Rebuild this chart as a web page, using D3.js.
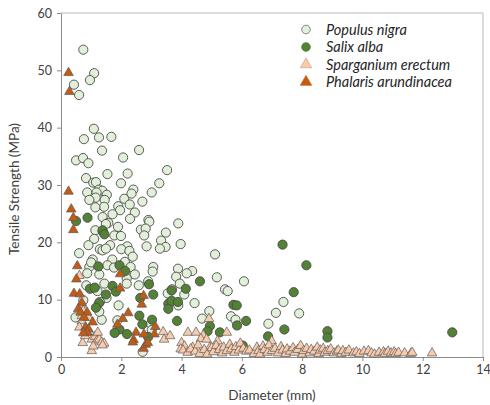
<!DOCTYPE html>
<html>
<head>
<meta charset="utf-8">
<script src="https://cdn.jsdelivr.net/npm/d3@7"></script>
<style>
  body { margin: 0; background: #fff; }
  svg { font-family: Lato, "Open Sans", sans-serif; }
</style>
</head>
<body>
<svg></svg>
<script>
// diameter (mm), tensile strength (MPa)
let populusX = [0.74,1.1,0.96,0.43,0.6,1.09,0.76,1.26,1.67,1.36,2.59,0.5,0.73,0.91,2.06,1.54,2.21,3.52,0.83,1.07,1.99,3.26,1.16,0.87,1.26,1.37,1.52,1.18,1.15,0.94,2.1,2.4,2.34,3.01,2.7,1.45,1.43,1.14,1.9,2.28,1.96,2.45,1.71,1.38,2.29,2.9,2.93,3.89,1.57,1.49,1.14,1.38,2.65,2.81,1.89,1.77,1.99,2.76,3.48,3.32,1.1,0.91,1.63,2.2,2.84,3.47,1.29,1.38,1.49,2.0,2.27,3.28,3.97,0.6,2.38,1.05,1.7,2.12,1.54,5.11,0.94,1.76,2.31,3.06,3.88,4.35,0.87,1.27,2.45,3.04,4.17,3.82,5.17,6.07,2.18,1.44,0.84,2.58,2.18,2.89,3.94,3.54,4.09,3.68,5.44,5.53,1.51,1.91,4.43,3.89,7.38,7.13,7.9,5.64,4.92,4.68,5.79,6.88,1.87,1.35,0.48,1.27,2.98,3.01,2.71,1.29,0.74,1.21,1.0]
let populusY = [53.6,49.5,48.3,47.5,45.7,39.8,38.0,38.3,38.4,36.0,36.1,34.3,34.7,33.8,34.8,31.9,32.0,32.6,31.2,30.4,30.3,30.3,30.5,28.7,29.2,29.0,28.3,28.7,27.8,27.4,27.6,29.2,28.5,28.7,27.1,27.4,26.2,26.1,26.3,26.6,25.6,25.2,24.9,24.4,24.1,23.9,23.6,23.3,23.4,23.2,22.1,21.9,22.2,22.4,22.7,21.2,21.1,21.2,21.7,20.3,20.6,19.5,19.5,19.3,19.3,19.2,18.8,18.6,18.9,18.8,18.5,18.9,19.7,18.1,17.5,17.0,17.0,16.6,16.0,17.9,15.7,15.6,15.7,15.7,15.4,15.0,14.6,14.4,14.4,14.9,14.6,14.0,13.9,13.2,13.7,12.8,12.5,12.5,12.8,13.2,12.8,11.1,10.9,11.8,11.8,11.5,10.3,9.0,9.4,9.0,9.6,7.7,7.6,7.1,8.0,6.7,6.5,5.8,6.4,6.5,6.9,7.9,5.8,4.7,0.9,9.6,9.9,11.5,16.5]

let salixX = [0.5,0.88,1.38,1.44,1.24,1.94,2.13,0.96,1.12,1.71,1.82,1.49,1.26,1.16,2.92,2.63,3.06,4.61,4.14,3.67,3.56,3.56,3.67,3.88,5.72,5.83,2.6,3.85,3.02,2.7,6.14,4.94,4.86,5.27,5.84,1.94,1.78,2.19,2.89,6.03,6.87,7.41,7.35,8.14,7.72,8.84,8.84,12.98]
let salixY = [23.7,24.3,22.1,21.4,15.8,16.0,15.0,11.9,12.1,12.4,11.4,10.9,9.4,8.6,12.7,10.3,10.9,13.2,11.9,11.6,9.3,8.4,9.8,9.6,9.1,9.0,7.2,6.3,6.5,5.7,6.3,5.4,4.5,4.3,5.5,4.8,4.2,4.0,3.5,2.0,3.6,4.8,19.6,16.0,11.3,4.5,3.4,4.3]

let sparganiumX = [0.61,0.69,0.74,0.69,0.69,0.61,0.72,0.91,0.96,0.8,1.02,1.13,1.18,1.27,1.35,1.43,1.38,1.02,1.07,1.22,3.39,3.42,3.62,4.91,4.21,4.48,4.72,4.64,4.0,4.1,4.37,4.83,4.94,3.97,5.19,5.5,6.99,12.31,
  4.05,4.2,4.3,4.45,4.55,4.6,4.75,4.85,5.0,5.05,5.15,5.25,5.35,5.4,5.5,5.6,5.65,5.75,5.8,5.9,5.95,6.05,6.15,6.25,6.4,6.5,6.55,6.6,6.7,6.75,6.85,6.9,7.0,7.1,7.2,7.3,7.35,7.45,7.5,7.6,7.7,7.75,7.85,7.95,8.0,8.05,8.15,8.25,8.3,8.4,8.5,8.55,8.6,8.7,8.75,8.85,8.95,9.05,9.15,9.2,9.3,9.35,9.45,9.55,9.7,9.8,9.9,10.05,10.2,10.3,10.4,10.55,10.7,10.75,10.85,10.95,11.05,11.1,11.2,11.4,11.6,11.65]
let sparganiumY = [14.0,9.0,7.9,7.0,6.1,5.0,2.3,6.7,4.1,3.5,2.9,3.4,2.6,2.9,2.4,2.2,1.9,0.9,1.7,4.1,4.2,2.9,3.5,6.5,4.1,4.1,3.6,3.0,2.3,1.7,1.5,2.9,1.5,1.2,2.6,4.1,2.6,0.5,
  1.0,0.6,1.2,0.8,1.9,0.4,1.1,0.3,1.4,0.7,1.8,1.1,0.5,1.5,0.9,2.0,1.2,0.6,1.6,1.0,2.2,1.3,0.8,1.0,0.4,1.5,0.9,0.3,1.7,1.1,0.6,1.9,0.9,1.3,0.5,1.6,1.0,0.4,1.2,0.8,1.4,0.6,1.1,1.8,0.3,0.9,1.3,0.5,1.1,0.8,1.5,0.4,1.0,1.3,0.6,0.9,1.2,0.5,0.8,1.0,0.4,0.9,0.6,1.0,0.5,0.7,0.4,0.8,0.9,0.5,0.3,0.6,0.7,0.4,0.8,0.5,0.7,0.4,0.6,0.5,0.4,0.6]

let phalarisX = [0.25,0.28,0.25,0.34,0.41,0.41,0.54,0.51,0.43,0.62,0.69,0.57,0.65,0.87,0.77,1.05,0.81,0.91,0.87,0.74,1.96,1.96,2.05,2.23,1.87,2.68,2.74,2.49,2.41,2.38,2.74,2.81,2.88,3.1,3.13,2.75]
let phalarisY = [49.4,46.1,28.7,25.6,24.1,22.0,15.7,13.4,10.9,10.8,9.3,8.2,7.6,7.6,6.7,5.9,5.0,4.7,4.1,4.0,14.3,11.8,6.5,7.5,5.5,9.0,10.5,4.1,2.8,2.4,1.3,2.0,2.3,3.8,5.1,3.8]

let seriesNames = ['Populus nigra', 'Salix alba', 'Sparganium erectum', 'Phalaris arundinacea']
let seriesFill = ['#e2f0d9', '#548235', '#f8cbad', '#c55a11']
let seriesShape = ['circle', 'circle', 'triangle', 'triangle']
let xTicks = [0, 2, 4, 6, 8, 10, 12, 14]
let yTicks = [0, 10, 20, 30, 40, 50, 60]

let width = 490
let height = 405
let padLeft = 61, padRight = 483, padTop = 13, padBottom = 357

let svg = d3.select('svg').attr('width', width).attr('height', height)

let xScale = d3.scaleLinear().domain([0, 14]).range([padLeft, padRight])
let yScale = d3.scaleLinear().domain([0, 60]).range([padBottom, padTop])

// frame (top + right)
svg.append('path')
  .attr('d', `M${padLeft},${padTop}H${padRight}V${padBottom}`)
  .attr('fill', 'none').attr('stroke', '#b8b8b8').attr('stroke-width', 1)

let xAxis = svg.append('g')
  .attr('transform', 'translate(0,' + padBottom + ')')
  .call(d3.axisBottom(xScale).tickValues(xTicks).tickSize(4).tickPadding(4).tickSizeOuter(0))
let yAxis = svg.append('g')
  .attr('transform', 'translate(' + padLeft + ',0)')
  .call(d3.axisLeft(yScale).tickValues(yTicks).tickSize(4).tickPadding(5).tickSizeOuter(0))

for (let ax of [xAxis, yAxis]) {
  ax.selectAll('path, line').attr('stroke', '#8c8c8c')
  ax.selectAll('text').attr('fill', '#404040').style('font-size', '12.5px').style('font-family', 'Lato, sans-serif')
}

svg.append('text')
  .attr('x', (padLeft + padRight) / 2).attr('y', 400)
  .attr('text-anchor', 'middle').attr('fill', '#404040')
  .style('font-size', '13.5px').text('Diameter (mm)')
svg.append('text')
  .attr('transform', 'translate(19,' + ((padTop + padBottom) / 2 + 4) + ') rotate(-90)')
  .attr('text-anchor', 'middle').attr('fill', '#404040')
  .style('font-size', '13.5px').text('Tensile Strength (MPa)')

let triangle = d3.symbol().type(d3.symbolTriangle).size(40)

let drawSeries = (xs, ys, i) => {
  let pts = xs.map((x, j) => [x, ys[j]])
  let g = svg.append('g')
  if (seriesShape[i] == 'circle') {
    g.selectAll('circle').data(pts).enter().append('circle')
      .attr('cx', d => xScale(d[0])).attr('cy', d => yScale(d[1]))
      .attr('r', 4.6)
      .attr('fill', seriesFill[i]).attr('stroke', '#4a4a4a').attr('stroke-width', 0.9)
  } else {
    g.selectAll('path').data(pts).enter().append('path')
      .attr('d', triangle)
      .attr('transform', d => 'translate(' + xScale(d[0]) + ',' + (yScale(d[1]) - 1) + ')')
      .attr('fill', seriesFill[i]).attr('stroke', '#5a5a5a').attr('stroke-width', 0.7)
  }
}

drawSeries(populusX, populusY, 0)
drawSeries(salixX, salixY, 1)
drawSeries(sparganiumX, sparganiumY, 2)
drawSeries(phalarisX, phalarisY, 3)

// legend
let legend = svg.append('g')
seriesNames.forEach((name, i) => {
  let cy = 29.5 + i * 17.5
  if (seriesShape[i] == 'circle') {
    legend.append('circle').attr('cx', 306).attr('cy', cy).attr('r', 4.3)
      .attr('fill', seriesFill[i]).attr('stroke', i == 0 ? '#777' : seriesFill[i]).attr('stroke-width', 0.9)
  } else {
    legend.append('path').attr('d', d3.symbol().type(d3.symbolTriangle).size(56))
      .attr('transform', 'translate(306,' + cy + ')')
      .attr('fill', seriesFill[i]).attr('stroke', i == 2 ? '#c9a48a' : seriesFill[i]).attr('stroke-width', 0.7)
  }
  legend.append('text').attr('x', 326).attr('y', cy + 5)
    .style('font-size', '14.5px').style('font-style', 'italic')
    .attr('fill', '#262626').text(name)
})
</script>
</body>
</html>
